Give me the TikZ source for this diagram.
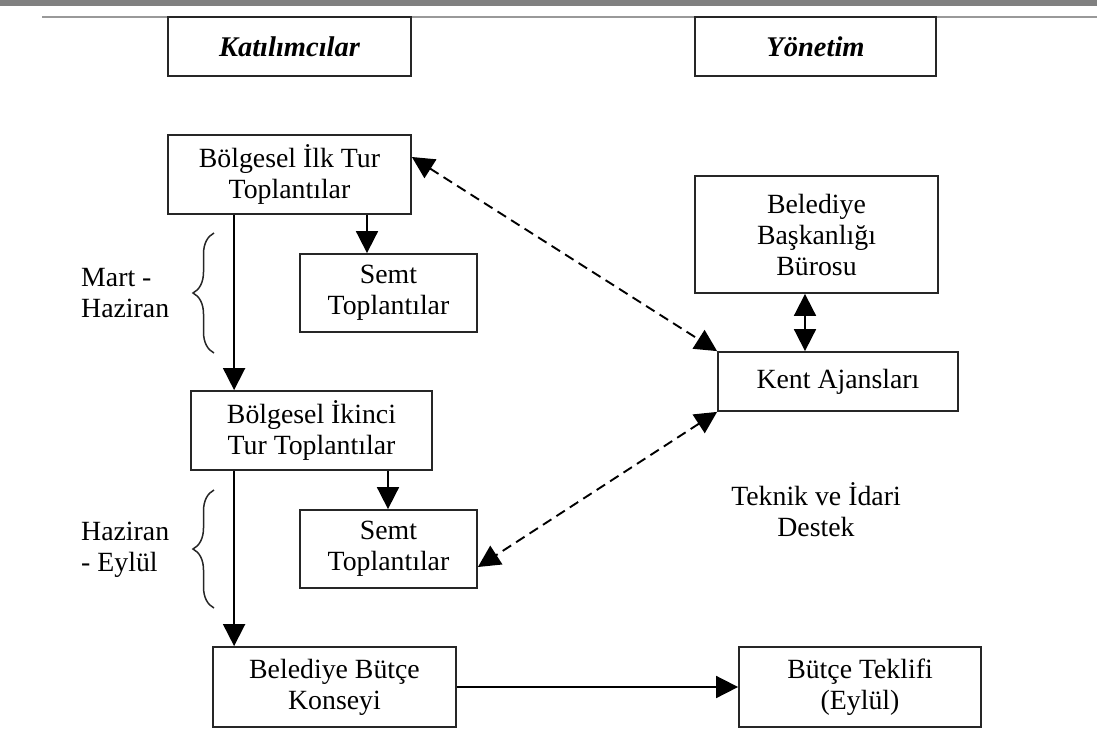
\documentclass[tikz,border=0pt]{standalone}
\usepackage{fontspec}
\setmainfont{Liberation Serif}
\usetikzlibrary{arrows.meta,decorations.pathreplacing}
\begin{document}
\begin{tikzpicture}[x=1pt,y=-1pt,
  every node/.style={font=\fontsize{27.8}{31}\selectfont, align=center, inner sep=0pt},
  box/.style={draw=black!85, line width=1.8pt, rectangle},
  hdr/.style={box, font=\fontsize{28.5}{31}\selectfont\bfseries\itshape},
  arr/.style={line width=1.8pt, -{Triangle[length=22pt,width=22pt]}},
  dbl/.style={line width=1.8pt, {Triangle[length=22pt,width=22pt]}-{Triangle[length=22pt,width=22pt]}},
  dsh/.style={dbl, line width=1.9pt, dash pattern=on 10pt off 6pt},
  brc/.style={draw=black!85, line width=1.5pt, decorate, decoration={brace, amplitude=21pt}},
  lbl/.style={anchor=west, align=left}
]
\useasboundingbox (0,0) rectangle (1097,731);
\fill[black!50] (0,0) rectangle (1097,6);
\draw[black!40, line width=1.5pt] (42,17) -- (1097,17);

\node[hdr, minimum width=243pt, minimum height=59pt] (hk) at (289.5,46.5) {Katılımcılar};
\node[hdr, minimum width=241pt, minimum height=59pt] (hy) at (815.5,46.5) {Yönetim};

\node[box, minimum width=243pt, minimum height=79pt] (bit) at (289.5,174.5) {Bölgesel İlk Tur\\Toplantılar};
\node[box, minimum width=177pt, minimum height=78pt] (semta) at (388.5,293) {Semt\\Toplantılar};
\node[box, minimum width=243pt, minimum height=117pt] (bask) at (816.5,234.5) {Belediye\\Başkanlığı\\Bürosu};
\node[box, minimum width=240pt, minimum height=59pt] (kent) at (838,381.5) {Kent Ajansları};
\node[box, minimum width=241pt, minimum height=79pt] (ikinci) at (311.5,430.5) {Bölgesel İkinci\\Tur Toplantılar};
\node[box, minimum width=177pt, minimum height=78pt] (semtb) at (388.5,549) {Semt\\Toplantılar};
\node[box, minimum width=243pt, minimum height=80pt] (konsey) at (334.5,687) {Belediye Bütçe\\Konseyi};
\node[box, minimum width=242pt, minimum height=80pt] (teklif) at (860,687) {Bütçe Teklifi\\(Eylül)};

\node (destek) at (816,510) {Teknik ve İdari\\Destek};
\node[lbl] (mh) at (81,293) {Mart -\\Haziran};
\node[lbl] (he) at (81,550) {Haziran\\- Eylül};

\draw[brc] (214,353) -- (214,233);
\draw[brc] (214,608) -- (214,490);

\draw[arr] ([xshift=67pt]bit.south west) -- ([xshift=67pt]bit.south west |- ikinci.north);
\draw[arr] ([xshift=77.5pt]bit.south) -- ([xshift=77.5pt]bit.south |- semta.north);
\draw[arr] ([xshift=44pt]ikinci.south west) -- ([xshift=44pt]ikinci.south west |- konsey.north);
\draw[arr] ([xshift=76.5pt]ikinci.south) -- ([xshift=76.5pt]ikinci.south |- semtb.north);
\draw[arr] (konsey.east) -- (teklif.west);
\draw[dbl] ([xshift=-11.5pt]bask.south) -- ([xshift=-11.5pt]bask.south |- kent.north);
\draw[dsh] ([yshift=17.5pt]bit.east) -- (kent.north west);
\draw[dsh] (kent.south west) -- ([yshift=-18pt]semtb.east);
\end{tikzpicture}
\end{document}
